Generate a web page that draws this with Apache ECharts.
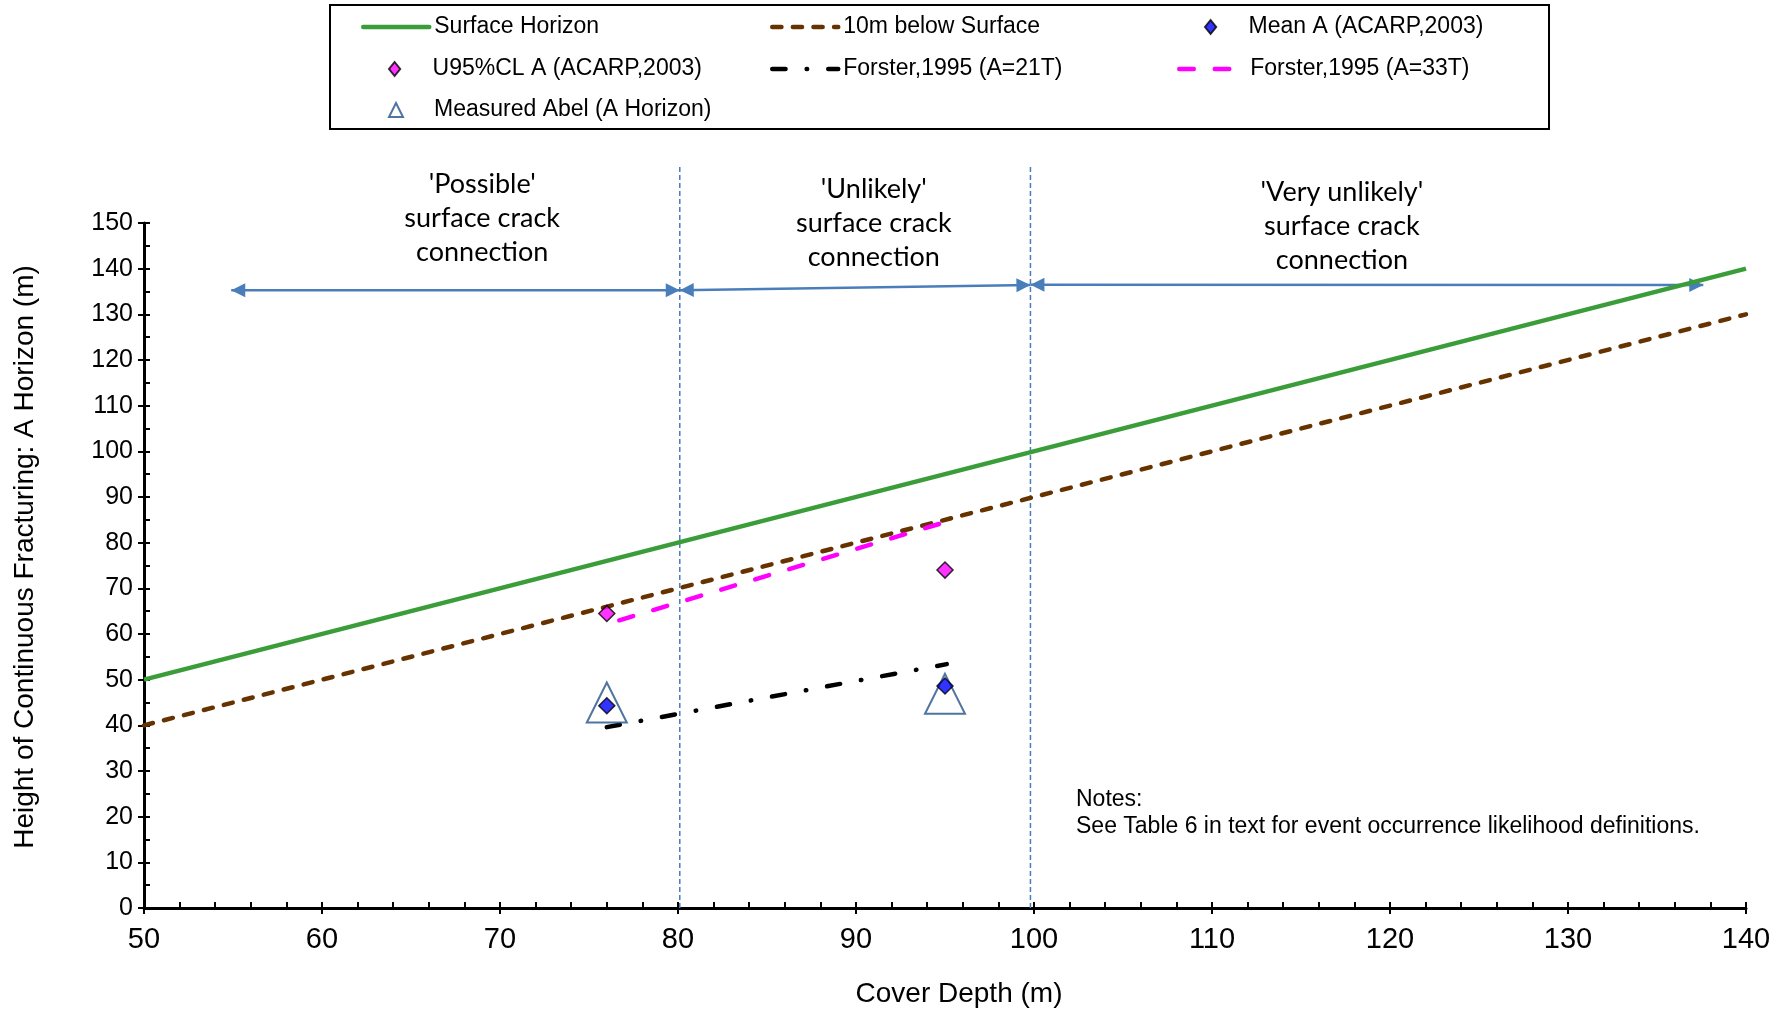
<!DOCTYPE html>
<html><head><meta charset="utf-8">
<script src="https://cdn.jsdelivr.net/npm/echarts@6/dist/echarts.min.js"></script>
<style>html,body{margin:0;padding:0;background:#fff}#c{width:1782px;height:1013px}</style>
</head><body><div id="c"></div>
<script>
// ---- data ----
const lineX = [50, 140];
const surfaceHorizon = [50, 140];
const below10m = [40, 130];
const meanA_x = [76, 95];
const meanA_y = [44.3, 48.6];
const u95_x = [76, 95];
const u95_y = [64.5, 74.0];
const forster21_x = [76, 95.1];
const forster21_y = [39.6, 53.4];
const forster33_x = [76.7, 95.1];
const forster33_y = [63.0, 84.6];
const abel_x = [76, 95];
const abel_y = [45.0, 46.9];
const zoneBoundaryX = [80.1, 99.8];
const zoneArrows = [[54.9, 135.3, 80.1, 135.3], [80.1, 135.3, 99.8, 136.4], [99.8, 136.5, 137.6, 136.4]];
const zoneLabelX = [69.0, 91.0, 117.3];
const zoneLabelY = [151.1, 150.0, 149.3];
const zoneLabels = ["'Possible'\nsurface crack\nconnection", "'Unlikely'\nsurface crack\nconnection", "'Very unlikely'\nsurface crack\nconnection"];
const seriesNames = ['Surface Horizon', '10m below Surface', 'Mean A (ACARP,2003)', 'U95%CL A (ACARP,2003)', 'Forster,1995 (A=21T)', 'Forster,1995 (A=33T)', 'Measured Abel (A Horizon)'];
const notesText = 'Notes:\nSee Table 6 in text for event occurrence likelihood definitions.';
const xMin = 50, xMax = 140, xStep = 10;
const yMin = 0, yMax = 150, yStep = 10;

const pair = (xs, ys) => xs.map((x, i) => [x, ys[i]]);
const FONT = "'Liberation Sans', Arial, sans-serif";

const chart = echarts.init(document.getElementById('c'), null, {renderer: 'canvas'});

const legendPos = [
  [361, 15.5], [770, 15.5], [1204, 15.5],
  [388, 57.5], [770, 57.5], [1177, 57.5],
  [388, 98.5]
];
const legendIcons = [null, null, 'path://M0,-1.25L1,0L0,1.25L-1,0Z', 'path://M0,-1.25L1,0L0,1.25L-1,0Z', null, null, 'path://M0,-1L1,1L-1,1Z'];
const legends = seriesNames.map((n, i) => {
  const item = legendIcons[i] ? {name: n, icon: legendIcons[i]} : {name: n};
  const l = {
    data: [item], left: legendPos[i][0], top: legendPos[i][1], padding: 0,
    itemWidth: 66, itemHeight: 14, itemGap: 5, selectedMode: false, symbolKeepAspect: true,
    textStyle: {fontSize: 23, fontFamily: FONT, color: '#000'}
  };
  if (!legendIcons[i]) {
    l.itemStyle = {opacity: 0};
    l.lineStyle = {width: 4.5, cap: 'round'};
  }
  return l;
});

function arrowHead(tip, from, len, half) {
  const dx = tip[0] - from[0], dy = tip[1] - from[1];
  const d = Math.sqrt(dx * dx + dy * dy) || 1;
  const ux = dx / d, uy = dy / d;
  const bx = tip[0] - ux * len, by = tip[1] - uy * len;
  return [[tip[0], tip[1]], [bx - uy * half, by + ux * half], [bx + uy * half, by - ux * half]];
}

const axisCommon = {
  type: 'value', splitLine: {show: false}, minorSplitLine: {show: false}
};

const option = {
  backgroundColor: '#fff',
  animation: false,
  grid: {left: 144, right: 36, top: 223, bottom: 105, containLabel: false},
  legend: legends,
  xAxis: [
    Object.assign({}, axisCommon, {
      min: xMin, max: xMax, interval: xStep, position: 'bottom',
      name: 'Cover Depth (m)', nameLocation: 'middle', nameGap: 72,
      nameTextStyle: {fontSize: 28, fontFamily: FONT, color: '#000', padding: [0, 0, 0, 28]},
      axisLine: {lineStyle: {color: '#000', width: 3}},
      axisTick: {inside: true, length: 6, lineStyle: {color: '#000', width: 2}},
      minorTick: {show: true, splitNumber: 5, length: 6, lineStyle: {color: '#000', width: 2}},
      axisLabel: {fontSize: 29, fontFamily: FONT, color: '#000', margin: 17}
    }),
    Object.assign({}, axisCommon, {
      min: xMin, max: xMax, interval: xStep, position: 'bottom',
      axisLine: {show: false},
      axisTick: {inside: false, length: 6, lineStyle: {color: '#000', width: 2}},
      axisLabel: {show: false}
    })
  ],
  yAxis: [
    Object.assign({}, axisCommon, {
      min: yMin, max: yMax, interval: yStep, position: 'left',
      name: 'Height of Continuous Fracturing: A Horizon (m)', nameLocation: 'middle', nameGap: 105,
      nameTextStyle: {fontSize: 28, fontFamily: FONT, color: '#000', padding: [0, 0, 0, 17]},
      axisLine: {lineStyle: {color: '#000', width: 3}},
      axisTick: {inside: true, length: 6, lineStyle: {color: '#000', width: 2}},
      minorTick: {show: true, splitNumber: 2, length: 6, lineStyle: {color: '#000', width: 2}},
      axisLabel: {fontSize: 25, fontFamily: FONT, color: '#000', margin: 11}
    }),
    Object.assign({}, axisCommon, {
      min: yMin, max: yMax, interval: yStep, position: 'left',
      axisLine: {show: false},
      axisTick: {inside: false, length: 6, lineStyle: {color: '#000', width: 2}},
      axisLabel: {show: false}
    })
  ],
  graphic: [
    {type: 'rect', shape: {x: 330, y: 5, width: 1219, height: 124},
     style: {fill: 'none', stroke: '#000', lineWidth: 2}, z: 0},
    {type: 'text', left: 1076, top: 786,
     style: {text: notesText, font: '23px ' + FONT, fill: '#000', lineHeight: 27}}
  ],
  series: [
    {
      name: 'zone-lines', type: 'custom', coordinateSystem: 'cartesian2d', z: 1, silent: true,
      data: zoneBoundaryX.map(x => [x, yMin]),
      encode: {x: 0, y: 1},
      renderItem: (params, api) => {
        const b = api.coord([api.value(0), yMin]);
        return {type: 'line', shape: {x1: b[0], y1: params.coordSys.y - 56, x2: b[0], y2: b[1]},
          style: {stroke: '#4a7ebb', lineWidth: 1.5, lineDash: [5, 3]}};
      }
    },
    {
      name: 'zone-arrows', type: 'custom', coordinateSystem: 'cartesian2d', z: 2, silent: true,
      data: zoneArrows,
      dimensions: ['x0', 'y0', 'x1', 'y1'],
      encode: {x: [0, 2], y: [1, 3]},
      renderItem: (params, api) => {
        const p0 = api.coord([api.value(0), api.value(1)]);
        const p1 = api.coord([api.value(2), api.value(3)]);
        const col = '#4a7ebb';
        return {type: 'group', children: [
          {type: 'line', shape: {x1: p0[0], y1: p0[1], x2: p1[0], y2: p1[1]}, style: {stroke: col, lineWidth: 2.5}},
          {type: 'polygon', shape: {points: arrowHead(p0, p1, 14, 7)}, style: {fill: col}},
          {type: 'polygon', shape: {points: arrowHead(p1, p0, 14, 7)}, style: {fill: col}}
        ]};
      }
    },
    {
      name: 'zone-labels', type: 'custom', coordinateSystem: 'cartesian2d', z: 3, silent: true,
      data: pair(zoneLabelX, zoneLabelY),
      encode: {x: 0, y: 1},
      renderItem: (params, api) => {
        const p = api.coord([api.value(0), api.value(1)]);
        return {type: 'text', style: {text: zoneLabels[params.dataIndex], x: p[0], y: p[1],
          align: 'center', verticalAlign: 'middle', font: "27px Lato, 'Open Sans', sans-serif",
          lineHeight: 34, fill: '#000'}};
      }
    },
    {
      name: seriesNames[0], type: 'line', data: pair(lineX, surfaceHorizon), symbol: 'none', z: 4,
      lineStyle: {color: '#3a9d3a', width: 4.5}, itemStyle: {color: '#3a9d3a'}
    },
    {
      name: seriesNames[1], type: 'line', data: pair(lineX, below10m), symbol: 'none', z: 4,
      lineStyle: {color: '#663300', width: 4.5, type: [9.2, 11.4], cap: 'round'}, itemStyle: {color: '#663300'}
    },
    {
      name: seriesNames[2], type: 'scatter', data: pair(meanA_x, meanA_y), symbol: 'diamond', symbolSize: 16, z: 7,
      itemStyle: {color: '#0000ff', borderColor: '#000', borderWidth: 1.5}
    },
    {
      name: seriesNames[3], type: 'scatter', data: pair(u95_x, u95_y), symbol: 'diamond', symbolSize: 16, z: 7,
      itemStyle: {color: '#ff00ff', borderColor: '#000', borderWidth: 1.5}
    },
    {
      name: seriesNames[4], type: 'line', data: pair(forster21_x, forster21_y), symbol: 'none', z: 5,
      lineStyle: {color: '#000', width: 4.5, type: [13.3, 21.1, 0.5, 21.1], cap: 'round'}, itemStyle: {color: '#000'}
    },
    {
      name: seriesNames[5], type: 'line', data: pair(forster33_x, forster33_y), symbol: 'none', z: 5,
      lineStyle: {color: '#ff00ff', width: 4.5, type: [14.5, 21], cap: 'round'}, itemStyle: {color: '#ff00ff'}
    },
    {
      name: seriesNames[6], type: 'scatter', data: pair(abel_x, abel_y), symbol: 'triangle', symbolSize: 40, z: 6,
      itemStyle: {color: 'rgba(0,0,0,0)', borderColor: '#24518a', borderWidth: 2}
    }
  ]
};
chart.setOption(option);
</script>
</body></html>
